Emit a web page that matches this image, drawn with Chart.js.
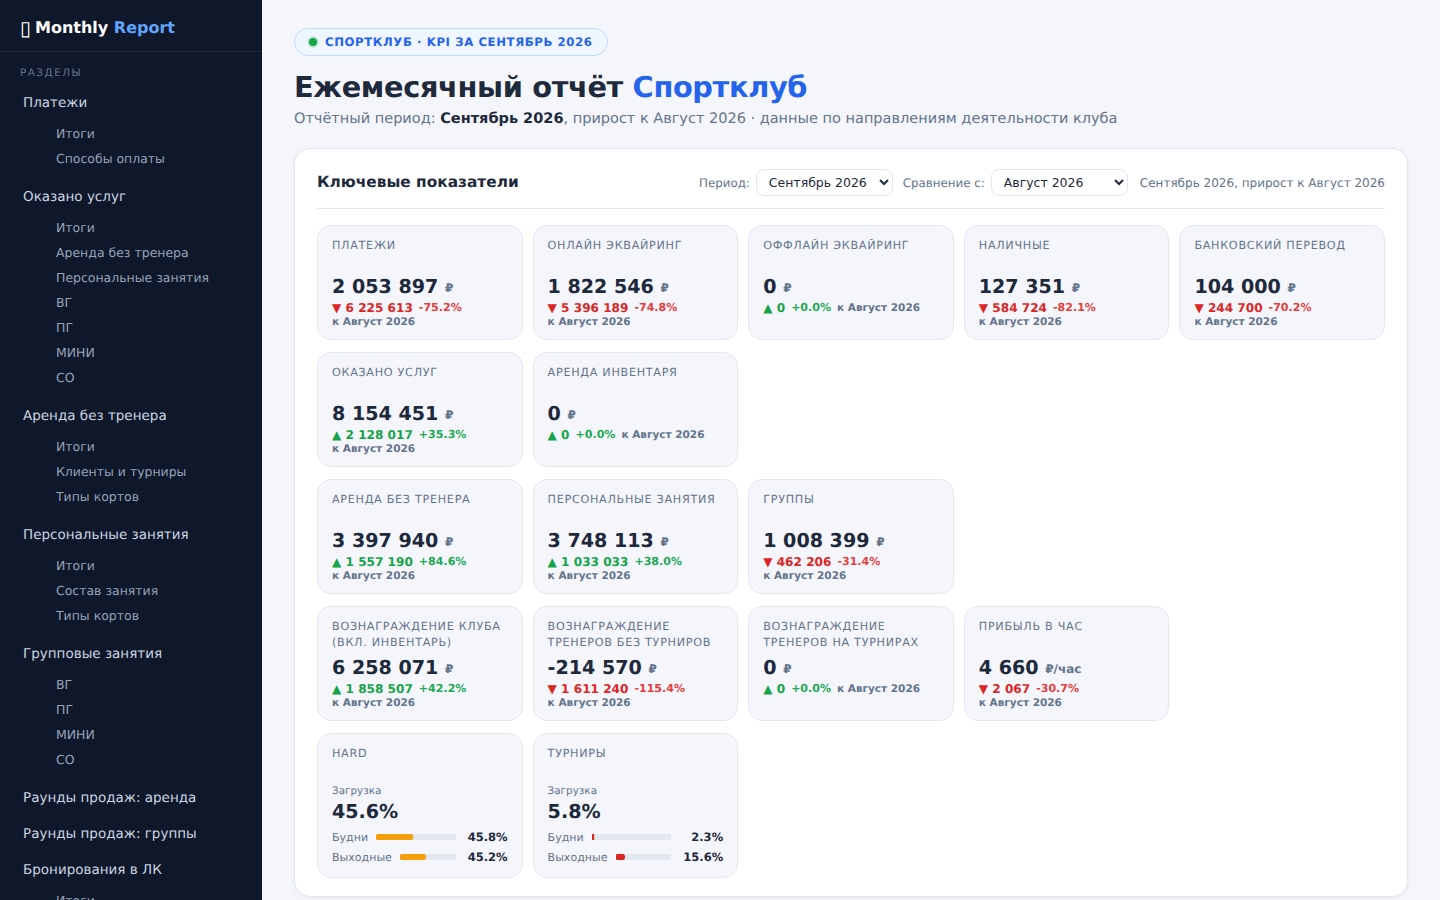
<!DOCTYPE html>
<html lang="ru">
<head>
<meta charset="utf-8">
<title>Monthly Report</title>
<script src="https://cdn.jsdelivr.net/npm/chart.js@4"></script>
<style>
*{box-sizing:border-box}
html,body{margin:0;height:900px;overflow:hidden}
body{font-family:"DejaVu Sans",sans-serif;text-rendering:geometricPrecision;background:#f4f6fb;color:#1e293b;display:flex;width:1440px}
aside{width:262px;height:900px;background:#0f172a;flex:none;overflow:hidden}
.logo{height:52px;border-bottom:1px solid #1e293b;padding:4px 20px 0;display:flex;align-items:center;font-size:16px;font-weight:700;color:#fff}
.logo i{font-style:normal;font-weight:400;font-size:20px;width:15px;line-height:1;flex:none}
.logo b{color:#60a5fa}
.sect{font-size:10.4px;letter-spacing:1.5px;color:#64748b;padding:0 20px;margin-top:14px;line-height:14px;margin-bottom:5px}
.head{height:36px;line-height:36px;padding-left:23px;font-size:13.5px;color:#cbd5e1;white-space:nowrap}
.subs{margin-bottom:8px}
.sub{height:25px;line-height:25px;padding-left:56px;font-size:12.48px;color:#94a3b8;white-space:nowrap}
main{flex:1;padding:28px 32px 0;min-width:0}
.pill{display:inline-flex;align-items:center;height:28px;border:1px solid #bfdbfe;background:#eff6ff;border-radius:14px;padding:0 14px 0 14px;color:#2563eb;font-size:11.7px;font-weight:700;letter-spacing:.6px}
.dot{width:8px;height:8px;border-radius:50%;background:#16a34a;box-shadow:0 0 0 2px rgba(22,163,74,.18);margin-right:8px}
h1{font-size:28.8px;letter-spacing:-.35px;line-height:36px;margin:13px 0 0;font-weight:700;color:#1e293b}
h1 span{color:#2563eb}
.subtitle{font-size:14.5px;line-height:18px;margin-top:5px;color:#64748b}
.subtitle b{color:#1e293b}
.panel{margin-top:20px;background:#fff;border:1px solid #e2e8f0;border-radius:16px;padding:0 22px;height:749px;box-shadow:0 1px 4px rgba(15,23,42,.06)}
.phead{padding:20px 0 12px;border-bottom:1px solid #e2e8f0;display:flex;align-items:center;font-size:12px;color:#64748b}
.phead h2{font-size:15.36px;font-weight:700;margin:-2px auto 0 0;color:#1e293b}
.phead label{font-size:11.84px}
select{font-family:inherit;font-size:12.48px;height:27px;width:137px;padding:0 8px;border:1px solid #e2e8f0;border-radius:8px;background:#fff;color:#1e293b;margin:0 10px 0 6px}
.rows{margin-top:16px}
.grid{display:grid;grid-template-columns:repeat(5,1fr);gap:10px;margin-bottom:12px}
.kpi{background:#f4f6fb;border:1px solid #e2e8f0;border-radius:14px;padding:12px 14px 0;height:115px;min-width:0}
.kpi.tall{height:145px}
.lab{font-size:11.2px;line-height:16px;height:32px;letter-spacing:.7px;color:#64748b;text-transform:uppercase}
.val{font-size:19.1px;font-weight:700;line-height:24px;margin-top:5px}
.val small{font-size:12px;color:#64748b;font-weight:700;position:relative;top:-1px}
.delta{display:flex;flex-wrap:wrap;column-gap:6px;font-size:12.1px;font-weight:700;line-height:14px}
.delta .p{font-size:11.04px;font-weight:600}
.delta .c{font-size:10.5px;color:#64748b}
.up{color:#16a34a}.up .p{color:#22a854}.down{color:#dc2626}.down .p{color:#e53e3e}
.lt{font-size:10.4px;line-height:14px;color:#64748b;margin-top:22px}
.tot{font-size:19.1px;font-weight:700;line-height:24px;margin-top:2px;margin-bottom:3px}
.bar{display:flex;align-items:center;height:20px;font-size:11.04px;color:#64748b}
.bar .cv{flex:1;height:6px;margin-left:8px;min-width:0;position:relative}
.bar .n{width:52px;text-align:right;font-size:11.52px;font-weight:700;color:#1e293b;flex:none}
</style>
</head>
<body>
<aside>
<div class="logo"><i>&#x25AF;</i><span>Monthly <b>Report</b></span></div>
<div class="sect">РАЗДЕЛЫ</div>
<nav id="nav"></nav>
</aside>
<main>
<div class="pill"><span class="dot"></span>СПОРТКЛУБ · KPI ЗА СЕНТЯБРЬ 2026</div>
<h1>Ежемесячный отчёт <span>Спортклуб</span></h1>
<div class="subtitle">Отчётный период: <b>Сентябрь 2026</b>, прирост к Август 2026 · данные по направлениям деятельности клуба</div>
<section class="panel">
<div class="phead"><h2>Ключевые показатели</h2>
<label>Период:</label><select><option>Сентябрь 2026</option><option>Август 2026</option></select>
<label>Сравнение с:</label><select><option>Август 2026</option><option>Июль 2026</option></select>
<span style="margin-left:2px">Сентябрь 2026, прирост к Август 2026</span></div>
<div class="rows" id="rows"></div>
</section>
</main>
<script>
const navHeads = ["Платежи","Оказано услуг","Аренда без тренера","Персональные занятия","Групповые занятия","Раунды продаж: аренда","Раунды продаж: группы","Бронирования в ЛК"];
const navSubs = [["Итоги","Способы оплаты"],["Итоги","Аренда без тренера","Персональные занятия","ВГ","ПГ","МИНИ","СО"],["Итоги","Клиенты и турниры","Типы кортов"],["Итоги","Состав занятия","Типы кортов"],["ВГ","ПГ","МИНИ","СО"],[],[],["Итоги"]];

const kpiRowSizes = [5,2,3,4];
const kpiLabels = ["Платежи","Онлайн эквайринг","Оффлайн эквайринг","Наличные","Банковский перевод","Оказано услуг","Аренда инвентаря","Аренда без тренера","Персональные занятия","Группы","Вознаграждение клуба (вкл. инвентарь)","Вознаграждение тренеров без турниров","Вознаграждение тренеров на турнирах","Прибыль в час"];
const kpiValues = [2053897,1822546,0,127351,104000,8154451,0,3397940,3748113,1008399,6258071,-214570,0,4660];
const kpiUnits = ["₽","₽","₽","₽","₽","₽","₽","₽","₽","₽","₽","₽","₽","₽/час"];
const kpiDeltas = [-6225613,-5396189,0,-584724,-244700,2128017,0,1557190,1033033,-462206,1858507,-1611240,0,-2067];
const kpiPcts = [-75.2,-74.8,0,-82.1,-70.2,35.3,0,84.6,38.0,-31.4,42.2,-115.4,0,-30.7];
const compareLabel = "к Август 2026";

const loadCategories = ["Будни","Выходные"];
const loadLabels = ["Hard","Турниры"];
const loadTotals = [45.6,5.8];
const loadWeekdays = [45.8,2.3];
const loadWeekends = [45.2,15.6];

const fmt = n => Math.abs(n).toString().replace(/\B(?=(\d{3})+(?!\d))/g,"\u00a0");
document.getElementById("nav").innerHTML = navHeads.map((h,i)=>`<div class="head">${h}</div>`+(navSubs[i].length?`<div class="subs">${navSubs[i].map(s=>`<div class="sub">${s}</div>`).join("")}</div>`:"")).join("");

const rows = document.getElementById("rows");
let idx = 0, html = "";
kpiRowSizes.forEach(sz=>{
  html += '<div class="grid">';
  for(let k=0;k<sz;k++,idx++){
    const d = kpiDeltas[idx], up = d>=0;
    const pct = (kpiPcts[idx]>=0?"+":"")+kpiPcts[idx].toFixed(1)+"%";
    html += `<div class="kpi"><div class="lab">${kpiLabels[idx]}</div><div class="val">${kpiValues[idx]<0?"-":""}${fmt(kpiValues[idx])} <small>${kpiUnits[idx]}</small></div><div class="delta ${up?"up":"down"}"><span>${up?"▲":"▼"} ${fmt(d)}</span><span class="p">${pct}</span><span class="c">${compareLabel}</span></div></div>`;
  }
  html += '</div>';
});
html += '<div class="grid">';
loadLabels.forEach((l,i)=>{
  const vals = [loadWeekdays[i],loadWeekends[i]];
  html += `<div class="kpi tall"><div class="lab" style="height:16px">${l}</div><div class="lt">Загрузка</div><div class="tot">${loadTotals[i].toFixed(1)}%</div>`+
    loadCategories.map((c,j)=>`<div class="bar"><span>${c}</span><div class="cv"><canvas id="b${i}_${j}"></canvas></div><span class="n">${vals[j].toFixed(1)}%</span></div>`).join("")+`</div>`;
});
html += '</div>';
rows.innerHTML = html;

loadLabels.forEach((l,i)=>{
  [loadWeekdays[i],loadWeekends[i]].forEach((v,j)=>{
    new Chart(document.getElementById(`b${i}_${j}`),{
      type:"bar",
      data:{labels:[loadCategories[j]],datasets:[
        {data:[v],backgroundColor:loadTotals[i]<20?"#dc2626":"#f59e0b",order:0,borderRadius:3,borderSkipped:false},
        {data:[100],backgroundColor:"#e2e8f0",order:1,borderRadius:3,borderSkipped:false}
      ]},
      options:{indexAxis:"y",responsive:true,maintainAspectRatio:false,animation:false,
        layout:{padding:0},
        datasets:{bar:{grouped:false,categoryPercentage:1,barPercentage:1}},
        scales:{x:{display:false,min:0,max:100},y:{display:false}},
        plugins:{legend:{display:false},tooltip:{enabled:false}}}
    });
  });
});
</script>
</body>
</html>
